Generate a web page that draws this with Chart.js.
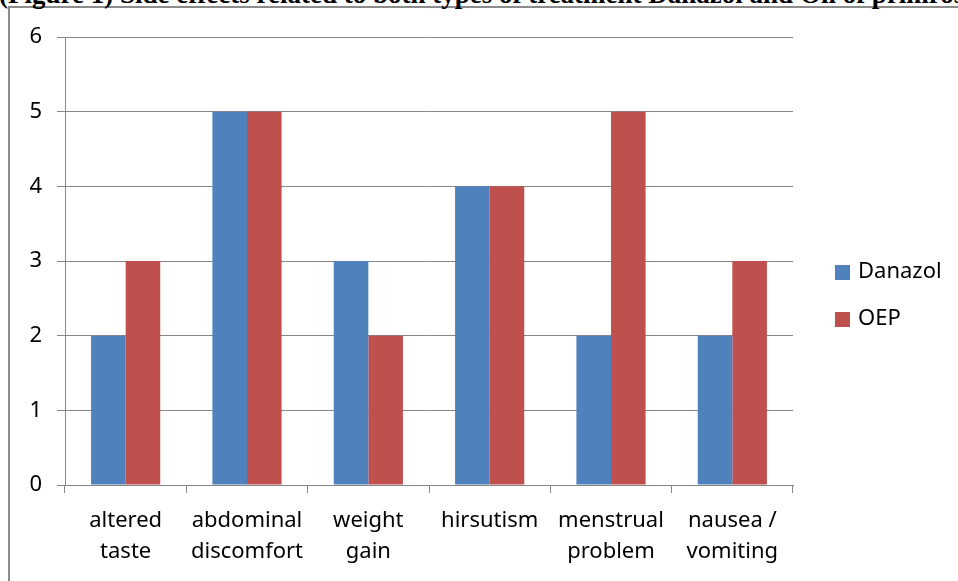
<!DOCTYPE html>
<html>
<head>
<meta charset="utf-8">
<script src="https://cdn.jsdelivr.net/npm/chart.js@4"></script>
<style>
  html, body { margin: 0; padding: 0; background: #fff; overflow: hidden; }
  #wrap { position: relative; width: 958px; height: 581px; overflow: hidden; }
  #titulo {
    position: absolute; left: -1px; top: -19px; white-space: nowrap;
    font: bold 27px/27px 'Liberation Serif', 'Times New Roman', serif; color: #000;
  }
  #moldura {
    position: absolute; left: 8px; top: 6px; width: 1000px; height: 620px;
    border: 2px solid #8c8c8c; background: #fff;
  }
  canvas { position: absolute; left: 0; top: 0; }
</style>
</head>
<body>
<div id="wrap">
  <div id="moldura"></div>
  <div id="titulo">(Figure 1) Side effects related to both types of treatment Danazol and Oil of primrose</div>
  <canvas id="graficoEfeitos" width="958" height="581"></canvas>
</div>
<script>
// Categorias (efeitos colaterais), uma entrada por linha do rótulo
const categorias = [
  ['altered', 'taste'],
  ['abdominal', 'discomfort'],
  ['weight', 'gain'],
  ['hirsutism'],
  ['menstrual', 'problem'],
  ['nausea /', 'vomiting']
];
// Valores de cada série
const danazol = [2, 5, 3, 4, 2, 2];
const oep = [3, 5, 2, 4, 5, 3];
// Rótulos das séries e marcas do eixo Y
const nomesSeries = ['Danazol', 'OEP'];
const marcasY = [0, 1, 2, 3, 4, 5, 6];

const fonte = "'Noto Sans', 'Open Sans', sans-serif";
const corGrade = '#878787';

// Legenda desenhada à direita, a partir dos próprios datasets
const legendaDireita = {
  id: 'legendaDireita',
  afterDraw(chart) {
    const ctx = chart.ctx;
    const area = chart.chartArea;
    const x = area.right + 42;
    const passo = 47;
    const meio = chart.height / 2 + 5;
    const inicio = meio - passo * (chart.data.datasets.length - 1) / 2;
    ctx.save();
    ctx.font = '22px ' + fonte;
    ctx.textBaseline = 'middle';
    chart.data.datasets.forEach((ds, i) => {
      const y = inicio + i * passo;
      ctx.fillStyle = ds.backgroundColor;
      ctx.fillRect(x, y - 7, 15, 15);
      ctx.fillStyle = '#000';
      ctx.fillText(ds.label, x + 23, y);
    });
    ctx.restore();
  }
};

const ctxEfeitos = document.getElementById('graficoEfeitos').getContext('2d');

new Chart(ctxEfeitos, {
  type: 'bar',
  data: {
    labels: categorias,
    datasets: [
      { label: nomesSeries[0], data: danazol, backgroundColor: '#4F81BD' },
      { label: nomesSeries[1], data: oep, backgroundColor: '#C0504D' }
    ]
  },
  options: {
    responsive: false,
    animation: false,
    layout: { padding: { top: 37, right: 165, bottom: 0, left: 0 } },
    datasets: { bar: { categoryPercentage: 0.57, barPercentage: 1.0 } },
    plugins: { legend: { display: false }, tooltip: { enabled: false } },
    scales: {
      x: {
        grid: { display: true, drawOnChartArea: false, drawTicks: true, tickLength: 8, color: corGrade, offset: true },
        border: { display: true, color: corGrade, width: 1 },
        ticks: {
          color: '#000', padding: 12, maxRotation: 0, autoSkip: false,
          font: { size: 22, family: fonte, lineHeight: 1.41 }
        },
        afterFit: (escala) => { escala.height = 96; }
      },
      y: {
        min: 0, max: 6,
        afterBuildTicks: (escala) => { escala.ticks = marcasY.map(v => ({ value: v })); },
        grid: { color: corGrade, tickLength: 8, lineWidth: 1 },
        border: { display: true, color: corGrade, width: 1 },
        ticks: { color: '#000', padding: 15, font: { size: 22, family: fonte } },
        afterFit: (escala) => { escala.width = 65; }
      }
    }
  },
  plugins: [legendaDireita]
});
</script>
</body>
</html>
